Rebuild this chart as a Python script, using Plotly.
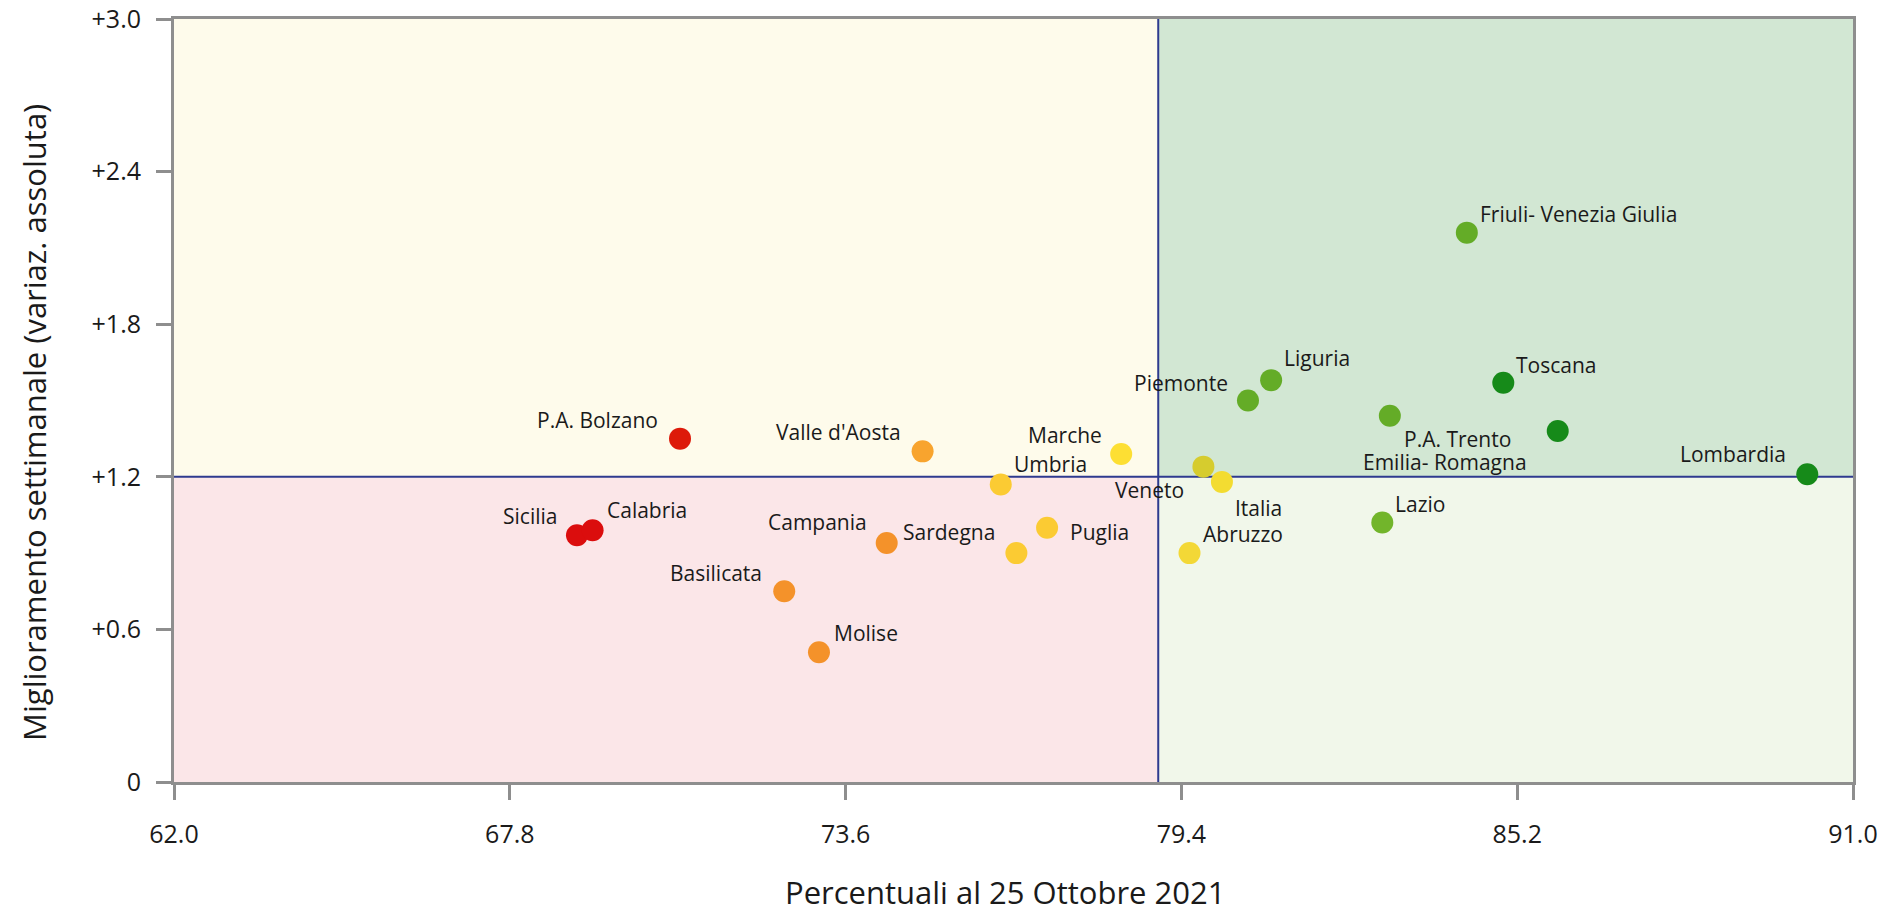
import plotly.graph_objects as go

# Regional data: vaccination coverage (%) vs weekly improvement
regions = [
    "P.A. Bolzano", "Valle d'Aosta", "Marche", "Umbria", "Sicilia", "Calabria",
    "Campania", "Sardegna", "Puglia", "Basilicata", "Molise", "Veneto", "Italia",
    "Abruzzo", "Friuli- Venezia Giulia", "Liguria", "Piemonte", "Emilia- Romagna",
    "Lazio", "Toscana", "P.A. Trento", "Lombardia",
]
coverage = [
    70.74, 74.93, 78.36, 76.28, 68.96, 69.23,
    74.31, 76.55, 77.08, 72.54, 73.14, 79.78, 80.10,
    79.54, 84.33, 80.95, 80.55, 83.00,
    82.87, 84.96, 85.90, 90.21,
]
weekly_gain = [
    1.35, 1.30, 1.29, 1.17, 0.97, 0.99,
    0.94, 0.90, 1.00, 0.75, 0.51, 1.24, 1.18,
    0.90, 2.16, 1.58, 1.50, 1.44,
    1.02, 1.57, 1.38, 1.21,
]

x_ticks = [62.0, 67.8, 73.6, 79.4, 85.2, 91.0]
x_tick_text = ["62.0", "67.8", "73.6", "79.4", "85.2", "91.0"]
y_ticks = [0, 0.6, 1.2, 1.8, 2.4, 3.0]
y_tick_text = ["0", "+0.6", "+1.2", "+1.8", "+2.4", "+3.0"]

X_SPLIT = 79.0
Y_SPLIT = 1.2
X_RANGE = [62.0, 91.0]
Y_RANGE = [0, 3.0]

# Marker colours, one per region
marker_colors = [
    "#DD1A0A", "#F8A42E", "#FDDF33", "#FBCB33", "#DB0D0D", "#DB0D0D",
    "#F4922A", "#FBCB33", "#FBCB33", "#F4922A", "#F4922A", "#D6CC2E", "#F3DC31",
    "#F3D836", "#64AC27", "#64AC27", "#64AC27", "#64AC27",
    "#72B52B", "#168A19", "#168A19", "#168A19",
]

# Label placement: (xanchor, xshift px, yshift px)
label_place = [
    ("right", -21, 19), ("right", -21, 19), ("right", -18, 19), ("left", 12, 20),
    ("right", -19, 19), ("left", 13, 20), ("right", -19, 21), ("right", -20, 21),
    ("left", 22, -4), ("right", -21, 18), ("left", 14, 19), ("right", -18, -23),
    ("left", 12, -26), ("left", 12, 19), ("left", 12, 19), ("left", 12, 22),
    ("right", -19, 18), ("left", -28, -46), ("left", 12, 19), ("left", 12, 18),
    ("right", -46, -8), ("right", -20, 20),
]

FONT = "Open Sans"
TEXT_COLOR = "#1a1a1a"
AXIS_GRAY = "#8E8E8E"
SPLIT_COLOR = "#2E3A8F"

fig = go.Figure()

# Quadrant backgrounds
quadrants = [
    (X_RANGE[0], X_SPLIT, Y_SPLIT, Y_RANGE[1], "#FEFBEB"),
    (X_SPLIT, X_RANGE[1], Y_SPLIT, Y_RANGE[1], "#D2E7D3"),
    (X_RANGE[0], X_SPLIT, Y_RANGE[0], Y_SPLIT, "#FBE6E8"),
    (X_SPLIT, X_RANGE[1], Y_RANGE[0], Y_SPLIT, "#F1F7EA"),
]
for x0, x1, y0, y1, col in quadrants:
    fig.add_shape(type="rect", x0=x0, x1=x1, y0=y0, y1=y1, xref="x", yref="y",
                  fillcolor=col, line_width=0, layer="below")

# Split lines
fig.add_shape(type="line", x0=X_SPLIT, x1=X_SPLIT, y0=Y_RANGE[0], y1=Y_RANGE[1],
              xref="x", yref="y", line=dict(color=SPLIT_COLOR, width=2), layer="below")
fig.add_shape(type="line", x0=X_RANGE[0], x1=X_RANGE[1], y0=Y_SPLIT, y1=Y_SPLIT,
              xref="x", yref="y", line=dict(color=SPLIT_COLOR, width=2), layer="below")

fig.add_trace(go.Scatter(
    x=coverage, y=weekly_gain, mode="markers",
    marker=dict(size=22, color=marker_colors, line_width=0, opacity=1),
    text=regions, hoverinfo="text+x+y", showlegend=False,
))

for name, xv, yv, (anchor, dx, dy) in zip(regions, coverage, weekly_gain, label_place):
    fig.add_annotation(x=xv, y=yv, xref="x", yref="y", text=name, showarrow=False,
                       xanchor=anchor, yanchor="middle", xshift=dx, yshift=dy,
                       borderpad=0,
                       font=dict(family=FONT, size=21, color=TEXT_COLOR))

# Axis titles
fig.add_annotation(text="Percentuali al 25 Ottobre 2021", xref="paper", yref="paper",
                   x=0.495, y=-0.1436, xanchor="center", yanchor="middle", showarrow=False,
                   borderpad=0, font=dict(family=FONT, size=31, color=TEXT_COLOR))
fig.add_annotation(text="Miglioramento settimanale (variaz. assoluta)", xref="paper",
                   yref="paper", x=-0.083, y=0.4715, xanchor="center", yanchor="middle",
                   textangle=-90, showarrow=False,
                   font=dict(family=FONT, size=31, color=TEXT_COLOR))

axis_common = dict(
    showgrid=False, zeroline=False, showline=True, mirror=True, automargin=False,
    linecolor=AXIS_GRAY, linewidth=3, ticks="outside", ticklen=15, tickwidth=3,
    tickcolor=AXIS_GRAY, tickfont=dict(family=FONT, size=25, color=TEXT_COLOR),
)
fig.update_xaxes(range=X_RANGE, tickvals=x_ticks, ticktext=x_tick_text,
                 ticklabelstandoff=13, **axis_common)
fig.update_yaxes(range=Y_RANGE, tickvals=y_ticks, ticktext=y_tick_text,
                 ticklabelstandoff=10, **axis_common)

fig.update_layout(
    width=1885, height=913,
    margin=dict(l=174, r=32, t=19, b=131, autoexpand=False),
    paper_bgcolor="white", plot_bgcolor="white",
    font=dict(family=FONT, color=TEXT_COLOR),
)

fig.write_html("out.html")
